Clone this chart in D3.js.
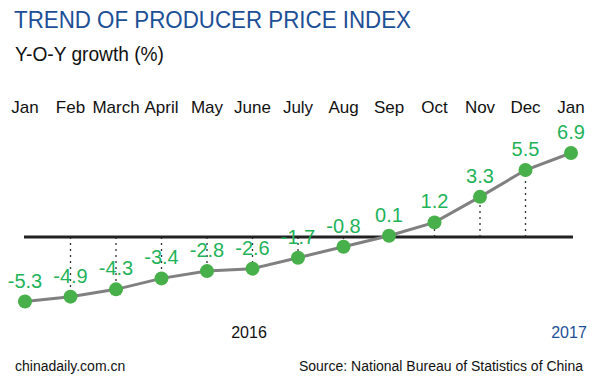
<!DOCTYPE html>
<html><head><meta charset="utf-8">
<script src="https://cdn.jsdelivr.net/npm/d3@7"></script>
<style>body{margin:0;background:#fff}svg{display:block}text{font-family:"Liberation Sans",Arial,sans-serif}</style>
</head><body><svg id="c" width="600" height="383"></svg>
<script>
const months = ["Jan","Feb","March","April","May","June","July","Aug","Sep","Oct","Nov","Dec","Jan"];
const values = [-5.3,-4.9,-4.3,-3.4,-2.8,-2.6,-1.7,-0.8,0.1,1.2,3.3,5.5,6.9];
const yearLabels = ["2016","2017"];

const svg = d3.select("#c");
const x = d3.scalePoint().domain(d3.range(months.length)).range([25, 571]);
const y = d3.scaleLinear().domain([0, 6.9]).range([237, 153]);

svg.append("text").attr("x",14).attr("y",28).attr("font-size",24.5).attr("fill","#1c4f96")
  .attr("textLength",397).attr("lengthAdjust","spacingAndGlyphs").text("TREND OF PRODUCER PRICE INDEX");
svg.append("text").attr("x",15).attr("y",61).attr("font-size",20).attr("fill","#111")
  .attr("textLength",149).attr("lengthAdjust","spacingAndGlyphs").text("Y-O-Y growth (%)");

svg.selectAll(".m").data(months).enter().append("text")
  .attr("x",(d,i)=>x(i)).attr("y",113).attr("text-anchor","middle").attr("font-size",17).attr("fill","#111").text(d=>d);

// dotted verticals
svg.selectAll(".v").data(values.map((v,i)=>({v,i})).filter(d=>d.i>0 && d.i<values.length-1)).enter().append("line")
  .attr("x1",d=>x(d.i)).attr("x2",d=>x(d.i)).attr("y1",y(0)).attr("y2",d=>y(d.v))
  .attr("stroke","#333").attr("stroke-width",1.3).attr("stroke-dasharray","2,4");

svg.append("line").attr("x1",24).attr("x2",573).attr("y1",y(0)).attr("y2",y(0)).attr("stroke","#222").attr("stroke-width",3);

svg.append("path").datum(values).attr("fill","none").attr("stroke","#808080").attr("stroke-width",3)
  .attr("d",d3.line().x((d,i)=>x(i)).y(d=>y(d)));

svg.selectAll(".p").data(values).enter().append("circle")
  .attr("cx",(d,i)=>x(i)).attr("cy",d=>y(d)).attr("r",7).attr("fill","#48b04b");

svg.selectAll(".l").data(values).enter().append("text")
  .attr("x",(d,i)=>x(i)).attr("y",d=>y(d)-14).attr("text-anchor","middle").attr("font-size",20).attr("fill","#1fb35a")
  .text(d=>d.toFixed(1));

svg.append("text").attr("x",249).attr("y",338).attr("text-anchor","middle").attr("font-size",16).attr("fill","#111").text(yearLabels[0]);
svg.append("text").attr("x",x(12)-2).attr("y",338).attr("text-anchor","middle").attr("font-size",16).attr("fill","#1c4f96").text(yearLabels[1]);

svg.append("text").attr("x",15).attr("y",371).attr("font-size",14).attr("fill","#111").text("chinadaily.com.cn");
svg.append("text").attr("x",583).attr("y",371).attr("text-anchor","end").attr("font-size",14).attr("fill","#111").text("Source: National Bureau of Statistics of China");
</script></body></html>
